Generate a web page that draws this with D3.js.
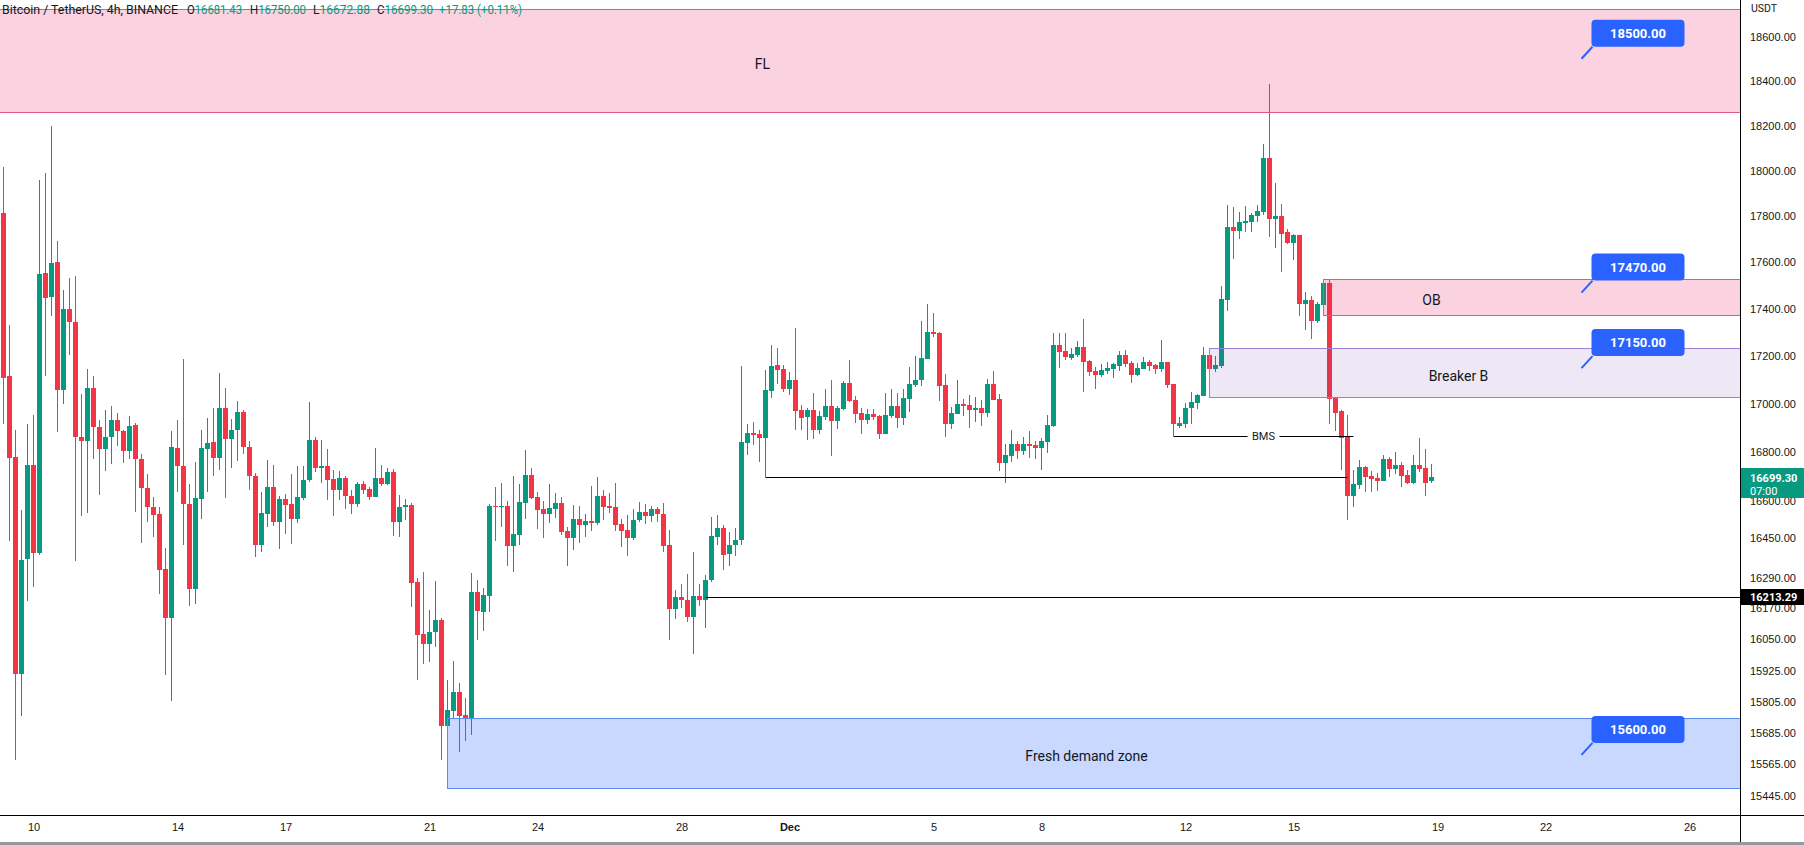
<!DOCTYPE html>
<html>
<head>
<meta charset="utf-8">
<script src="https://cdn.jsdelivr.net/npm/d3@7"></script>
<style>
  body { margin: 0; background: #fff; }
  svg { display: block; font-family: Roboto, "Noto Sans", sans-serif; }
</style>
</head>
<body>
<div id="chart"></div>
<script>
const W = 1804, H = 845;
const PLOT_W = 1740, PLOT_H = 815;
const START = Date.UTC(2022, 10, 9, 4); // first 4h candle
const STEP = 4 * 3600 * 1000;

// BTC/USDT 4h
const open = [17815,17117,16781,15914,16366,16749,16392,17555,17453,17601,
  17060,17400,17344,16865,16845,17067,16905,16815,16861,16934,
  16889,16807,16913,16773,16654,16577,16548,16328,16133,16819,
  16744,16589,16247,16610,16815,16843,16778,16983,16853,16894,
  16967,16821,16701,16424,16550,16658,16517,16609,16587,16526,
  16615,16685,16851,16737,16744,16689,16647,16695,16623,16590,
  16670,16648,16618,16695,16671,16719,16517,16575,16585,16273,
  16067,16031,16075,16124,15712,15770,15842,15753,15741,16235,
  16157,16220,16581,16577,16581,16420,16465,16594,16707,16617,
  16568,16550,16570,16593,16480,16453,16528,16505,16520,16513,
  16621,16579,16575,16506,16482,16450,16522,16556,16541,16568,
  16550,16421,16169,16215,16205,16137,16219,16204,16281,16457,
  16492,16388,16423,16443,16840,16880,16876,16860,17056,17163,
  17146,17064,17100,16975,16947,16975,16894,16947,16992,16931,
  16979,17088,17017,16963,16935,16959,16950,16877,16951,16992,
  16943,17022,17081,17102,17190,17301,17297,17080,16918,16960,
  17000,16996,16976,16983,16964,17084,17021,16757,16786,16834,
  16807,16834,16830,16819,16844,16910,17247,17222,17194,17206,
  17239,17180,17138,17123,17138,17148,17160,17205,17172,17123,
  17148,17176,17164,17148,17176,17084,16910,16918,16983,17005,
  17035,17205,17148,17160,17439,17753,17737,17770,17775,17801,
  17818,18057,17788,17801,17731,17684,17718,17421,17438,17349,
  17417,17511,17026,16969,16861,16622,16668,16740,16703,16695,
  16684,16773,16733,16748,16708,16676,16748,16736,16681.43];
const high = [18015,17332,16894,16566,16917,16954,17959,17989,18197,17693,
  17482,17534,17540,17042,17146,17117,16934,16975,16992,16963,
  16892,16951,16922,16793,16712,16617,16577,16409,16889,16934,
  17188,16671,16761,16892,16942,16983,17129,17067,16937,17013,
  16975,16847,16714,16637,16769,16748,16621,16629,16711,16744,
  16744,17008,16862,16851,16813,16728,16724,16703,16645,16678,
  16682,16659,16818,16748,16736,16732,16625,16609,16593,16291,
  16315,16164,16279,16132,15890,15963,15877,15819,16311,16283,
  16251,16589,16658,16674,16601,16703,16670,16809,16736,16637,
  16601,16670,16633,16617,16496,16585,16581,16548,16662,16699,
  16645,16633,16674,16528,16544,16569,16597,16589,16581,16577,
  16593,16484,16243,16267,16307,16395,16267,16303,16536,16544,
  16504,16476,16492,17158,16917,16925,16892,17142,17247,17234,
  17163,17134,17320,16996,16983,17046,16971,17063,17100,16992,
  17096,17184,17033,16983,16979,16979,16954,17046,17063,17046,
  17063,17155,17201,17349,17421,17383,17301,17126,16989,17100,
  17021,17038,17029,17017,17105,17138,17042,16834,16892,16847,
  16863,16888,16847,16859,16956,17296,17296,17300,17234,17264,
  17358,17185,17155,17167,17176,17172,17222,17226,17180,17172,
  17197,17184,17169,17268,17176,17084,16946,17004,17050,17042,
  17239,17233,17201,17498,17849,17840,17818,17844,17814,17849,
  18118,18385,17946,17853,17744,17723,17718,17472,17455,17430,
  17528,17524,17030,16975,16954,16727,16769,16745,16725,16716,
  16790,16782,16801,16762,16729,16789,16860,16815,16750];
const low = [16915,16438,15581,15748,16200,16255,16384,17117,17372,16884,
  17001,17207,16358,16541,16553,16771,16625,16725,16753,16827,
  16756,16771,16558,16432,16514,16457,16225,15907,15809,16636,
  16421,16178,16189,16526,16636,16703,16729,16611,16734,16763,
  16794,16647,16376,16396,16497,16501,16408,16469,16426,16513,
  16605,16680,16721,16676,16606,16541,16606,16570,16550,16578,
  16631,16606,16618,16663,16666,16461,16457,16525,16177,15890,
  15953,15960,16019,15582,15696,15741,15612,15655,15678,16047,
  16082,16157,16440,16497,16340,16316,16424,16529,16610,16489,
  16453,16513,16533,16465,16340,16404,16432,16457,16481,16505,
  16525,16554,16481,16416,16380,16445,16517,16509,16517,16517,
  16396,16047,16129,16173,16118,15991,16181,16094,16276,16424,
  16324,16340,16379,16423,16790,16831,16762,16699,17026,17085,
  17052,17039,16894,16894,16852,16856,16877,16935,16786,16898,
  16975,17010,16923,16877,16918,16935,16856,16877,16943,16902,
  16914,16968,17072,17076,17190,17280,17014,16865,16898,16960,
  16952,16902,16927,16910,16947,17018,16725,16676,16762,16774,
  16790,16778,16774,16729,16798,16906,17152,17185,17185,17198,
  17052,17118,17064,17114,17127,17110,17139,17156,17089,17118,
  17148,17139,17127,17135,17068,16868,16902,16902,16918,16981,
  17035,17077,17134,17152,17393,17614,17701,17731,17731,17775,
  17805,17710,17662,17558,17679,17610,17370,17311,17274,17342,
  17413,16917,16889,16729,16525,16578,16651,16639,16639,16643,
  16684,16700,16712,16659,16672,16672,16721,16622,16672.88];
const close = [17110,16778,15914,16362,16749,16389,17549,17448,17597,17060,
  17400,17346,16865,16845,17067,16903,16815,16863,16934,16886,
  16807,16910,16771,16652,16575,16546,16321,16130,16822,16742,
  16590,16247,16613,16818,16839,16775,16983,16853,16894,16967,
  16820,16701,16424,16552,16658,16517,16609,16586,16529,16617,
  16687,16851,16737,16744,16688,16647,16695,16622,16590,16670,
  16647,16618,16695,16671,16719,16517,16577,16585,16272,16066,
  16031,16077,16124,15712,15773,15842,15751,15741,16235,16161,
  16223,16581,16577,16581,16420,16467,16597,16707,16614,16566,
  16550,16573,16593,16477,16453,16528,16505,16520,16513,16621,
  16578,16574,16505,16481,16453,16524,16556,16541,16568,16550,
  16420,16169,16215,16204,16137,16219,16204,16283,16459,16492,
  16384,16423,16443,16843,16880,16873,16860,17058,17159,17143,
  17063,17100,16972,16943,16975,16894,16950,16992,16931,16983,
  17088,17014,16960,16935,16959,16947,16877,16954,16992,16943,
  17025,17084,17100,17192,17301,17294,17077,16918,16963,17000,
  16993,16976,16983,16964,17084,17018,16757,16789,16834,16807,
  16834,16827,16819,16847,16913,17247,17219,17198,17210,17239,
  17177,17135,17123,17142,17151,17167,17205,17169,17123,17151,
  17176,17160,17148,17176,17081,16915,16921,16983,17008,17038,
  17205,17148,17163,17442,17753,17737,17775,17779,17805,17823,
  18057,17788,17801,17723,17684,17718,17421,17438,17349,17421,
  17511,17022,16964,16857,16622,16672,16740,16700,16692,16684,
  16773,16733,16748,16704,16676,16748,16733,16676,16699.30];

const yTicks = [18600,18400,18200,18000,17800,17600,17400,17200,17000,16800,
  16600,16450,16290,16170,16050,15925,15805,15685,15565,15445];
const xTickDays = [[10,10],[10,14],[10,17],[10,21],[10,24],[10,28],[11,1],
  [11,5],[11,8],[11,12],[11,15],[11,19],[11,22],[11,26]]; // [month, day]

// drawn zones: price range and candle index span
const zoneLabels = ["FL", "OB", "Breaker B", "Fresh demand zone"];
const zoneTop = [18726, 17527, 17233, 15741];
const zoneBottom = [18262, 17373, 17028, 15474];
const zoneStart = [-30, 220, 201, 74];
const zoneEnd = [283, 256, 284, 287];

const calloutValues = [18500, 17470, 17150, 15600];
const calloutIndex = 263;

const lastPrice = 16699.30;
const markedPrice = 16213.29;
const bmsPrice = 16866;

const GREEN = "#089981", RED = "#f23645", TEXT = "#131722";

const svg = d3.select("#chart").append("svg")
  .attr("width", W).attr("height", H);

const tAt = i => new Date(START + i * STEP);

const x = d3.scaleUtc()
  .domain([new Date(START - 3.5 / 6 * STEP), new Date(START + (PLOT_W - 3.5) / 6 * STEP)])
  .range([0, PLOT_W]);
const y = d3.scaleLog()
  .domain([15372, 18768])
  .range([PLOT_H, 0]);

const xi = i => x(tAt(i));
const crisp = v => Math.round(v) + 0.5;

svg.append("defs").append("clipPath").attr("id", "plot")
  .append("rect").attr("width", PLOT_W).attr("height", PLOT_H);

const plot = svg.append("g").attr("clip-path", "url(#plot)");

// candles
const candles = d3.range(open.length).map(i => ({
  i, o: open[i], h: high[i], l: low[i], c: close[i]
}));

const cg = plot.append("g");
cg.selectAll("line.wick")
  .data(candles)
  .join("line")
  .attr("class", "wick")
  .attr("x1", d => Math.floor(xi(d.i)) + 0.5)
  .attr("x2", d => Math.floor(xi(d.i)) + 0.5)
  .attr("y1", d => Math.round(y(d.h)))
  .attr("y2", d => Math.round(y(d.l)))
  .attr("stroke", d => d.c >= d.o ? GREEN : RED)
  .attr("stroke-width", 1);

cg.selectAll("rect.body")
  .data(candles)
  .join("rect")
  .attr("class", "body")
  .attr("x", d => Math.floor(xi(d.i)) - 2)
  .attr("width", 5)
  .attr("y", d => Math.round(y(Math.max(d.o, d.c))))
  .attr("height", d => Math.max(1, Math.round(y(Math.min(d.o, d.c))) - Math.round(y(Math.max(d.o, d.c)))))
  .attr("fill", d => d.c >= d.o ? GREEN : RED);

// zones
const zoneFill = ["rgba(233,30,99,0.2)", "rgba(233,30,99,0.2)", "rgba(103,58,183,0.12)", "rgba(41,98,255,0.25)"];
const zoneStroke = ["#dd5a88", "#dd5a88", "#9c7fd6", "#5b8def"];

const zg = plot.append("g");
zoneLabels.forEach((name, k) => {
  const x0 = Math.floor(xi(zoneStart[k])) + 0.5;
  const yt = crisp(y(zoneTop[k])), yb = crisp(y(zoneBottom[k]));
  zg.append("rect")
    .attr("x", x0).attr("y", yt)
    .attr("width", PLOT_W - x0 + 2).attr("height", yb - yt)
    .attr("fill", zoneFill[k])
    .attr("stroke", zoneStroke[k]).attr("stroke-width", 1);
  zg.append("text")
    .attr("x", (xi(zoneStart[k]) + xi(zoneEnd[k])) / 2)
    .attr("y", (yt + yb) / 2 + 3)
    .attr("dy", "0.35em")
    .attr("text-anchor", "middle")
    .attr("font-size", 14)
    .attr("fill", TEXT)
    .text(name);
});

// horizontal levels
const lg = plot.append("g").attr("stroke", "#000").attr("stroke-width", 1);
lg.append("line")
  .attr("x1", xi(117)).attr("x2", PLOT_W)
  .attr("y1", crisp(y(markedPrice))).attr("y2", crisp(y(markedPrice)));
lg.append("line")
  .attr("x1", xi(127)).attr("x2", xi(224))
  .attr("y1", crisp(y(16699))).attr("y2", crisp(y(16699)));

const bmsY = crisp(y(bmsPrice));
const bmsMid = (xi(195) + xi(225)) / 2;
lg.append("line").attr("x1", xi(195)).attr("x2", bmsMid - 16).attr("y1", bmsY).attr("y2", bmsY);
lg.append("line").attr("x1", bmsMid + 16).attr("x2", xi(225)).attr("y1", bmsY).attr("y2", bmsY);
plot.append("text")
  .attr("x", bmsMid).attr("y", bmsY).attr("dy", "0.35em")
  .attr("text-anchor", "middle").attr("font-size", 11).attr("fill", TEXT)
  .text("BMS");

// callouts
const cog = plot.append("g");
calloutValues.forEach(v => {
  const tx = xi(calloutIndex), ty = y(v);
  cog.append("line")
    .attr("x1", tx).attr("y1", ty).attr("x2", tx + 11).attr("y2", ty - 12)
    .attr("stroke", "#2962ff").attr("stroke-width", 2);
  cog.append("rect")
    .attr("x", tx + 10).attr("y", ty - 39)
    .attr("width", 93).attr("height", 27).attr("rx", 4)
    .attr("fill", "#2962ff");
  cog.append("text")
    .attr("x", tx + 56.5).attr("y", ty - 25.5).attr("dy", "0.35em")
    .attr("text-anchor", "middle").attr("font-size", 13).attr("font-weight", 700)
    .attr("fill", "#fff")
    .text(d3.format(".2f")(v));
});

// axes
const xAxis = svg.append("g")
  .attr("transform", `translate(0,${PLOT_H})`)
  .call(d3.axisBottom(x)
    .tickValues(xTickDays.map(([m, d]) => new Date(Date.UTC(2022, m, d))))
    .tickFormat(d => d.getUTCDate() === 1 ? d3.utcFormat("%b")(d) : d.getUTCDate())
    .tickSize(0).tickPadding(8));
xAxis.select(".domain").attr("d", `M0,0.5H${W}`).attr("stroke", "#000");
xAxis.selectAll("text").attr("font-size", 11).attr("fill", TEXT).attr("font-family", null)
  .attr("font-weight", d => d.getUTCDate() === 1 ? 700 : 400);

const yAxis = svg.append("g")
  .attr("transform", `translate(${PLOT_W},0)`)
  .call(d3.axisRight(y).tickValues(yTicks).tickFormat(d3.format(".2f"))
    .tickSize(0).tickPadding(10));
yAxis.select(".domain").attr("d", `M0.5,0V${H}`).attr("stroke", "#000");
yAxis.selectAll("text").attr("font-size", 11).attr("fill", TEXT).attr("font-family", null);

svg.append("text").attr("x", 1751).attr("y", 8).attr("dy", "0.35em")
  .attr("font-size", 10.5).attr("fill", TEXT).text("USDT");

svg.append("line").attr("x1", 0).attr("x2", W).attr("y1", H - 1.5).attr("y2", H - 1.5)
  .attr("stroke", "#9598a1").attr("stroke-width", 3);

// price labels on the axis
const lpY = y(lastPrice);
svg.append("rect").attr("x", PLOT_W + 1).attr("y", Math.round(lpY) - 9)
  .attr("width", W - PLOT_W - 1).attr("height", 30).attr("fill", GREEN);
svg.append("text").attr("x", 1750).attr("y", Math.round(lpY) + 1)
  .attr("dy", "0.35em").attr("font-size", 11).attr("font-weight", 700).attr("fill", "#fff")
  .text(d3.format(".2f")(lastPrice));
svg.append("text").attr("x", 1750).attr("y", Math.round(lpY) + 14)
  .attr("dy", "0.35em").attr("font-size", 11).attr("fill", "#fff")
  .text("07:00");

const mpY = y(markedPrice);
svg.append("rect").attr("x", PLOT_W + 1).attr("y", Math.round(mpY) - 8)
  .attr("width", W - PLOT_W - 1).attr("height", 16).attr("fill", "#000");
svg.append("text").attr("x", 1750).attr("y", Math.round(mpY))
  .attr("dy", "0.35em").attr("font-size", 11).attr("font-weight", 700).attr("fill", "#fff")
  .text(d3.format(".2f")(markedPrice));

// header legend
const last = candles[candles.length - 1];
const legend = [
  { x: 2, w: 176, parts: [["Bitcoin / TetherUS, 4h, BINANCE", TEXT]] },
  { x: 187, w: 55, parts: [["O", TEXT], [d3.format(".2f")(last.o), GREEN]] },
  { x: 250, w: 56, parts: [["H", TEXT], [d3.format(".2f")(last.h), GREEN]] },
  { x: 313, w: 57, parts: [["L", TEXT], [d3.format(".2f")(last.l), GREEN]] },
  { x: 377, w: 56, parts: [["C", TEXT], [d3.format(".2f")(last.c), GREEN]] },
  { x: 439, w: 83, parts: [["+17.83 (+0.11%)", GREEN]] }
];
legend.forEach(g => {
  const t = svg.append("text").attr("x", g.x).attr("y", 10).attr("dy", "0.35em")
    .attr("font-size", 12.5)
    .attr("textLength", g.w).attr("lengthAdjust", "spacingAndGlyphs");
  g.parts.forEach(([s, col]) => t.append("tspan").attr("fill", col).text(s));
});
</script>
</body>
</html>
